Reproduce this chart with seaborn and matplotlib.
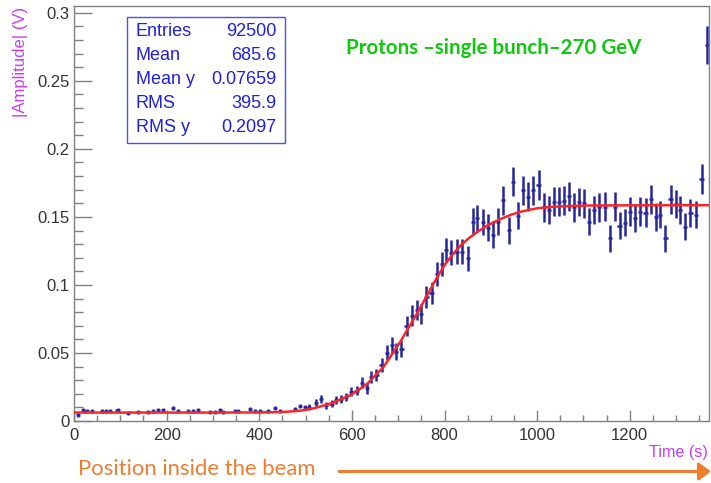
import matplotlib
matplotlib.use("Agg")
import matplotlib.pyplot as plt
import matplotlib.patches as mpatches
from matplotlib.ticker import MultipleLocator
import seaborn as sns
import pandas as pd

# ---------------- data ----------------
time_s = [9, 19, 27, 38, 60, 69, 78, 94, 117, 139, 160, 171, 182, 193, 214, 225, 247, 257,
          268, 294, 304, 315, 322, 347, 355, 380, 391, 401, 419, 434, 445, 477, 488, 499,
          508, 522, 533, 544, 556, 565, 576, 587, 599,
          610, 621, 632, 642, 653, 664, 675, 686, 696,
          707, 718, 729, 740, 750, 761, 772, 783, 794,
          804, 815, 826, 837, 850, 861, 871, 883, 894, 905,
          916, 927, 939, 948, 959, 970, 981, 991, 1003, 1014,
          1025, 1036, 1047, 1058, 1068, 1079, 1090, 1101, 1112, 1123,
          1134, 1146, 1157, 1168, 1178, 1189, 1200, 1211, 1222, 1234,
          1245, 1256, 1266, 1277, 1288, 1299, 1309, 1320, 1331, 1343,
          1355, 1366]
amplitude = [0.0045, 0.0081, 0.0074, 0.0074, 0.0074, 0.0072, 0.0074, 0.0081, 0.0056, 0.0064,
             0.0069, 0.0076, 0.0078, 0.0081, 0.0093, 0.0076, 0.0076, 0.0072, 0.0081, 0.0069,
             0.0069, 0.0081, 0.0068, 0.0076, 0.0073, 0.0088, 0.0074, 0.0073, 0.0074, 0.0093,
             0.0076, 0.0088, 0.0110, 0.0100,
             0.0100, 0.0135, 0.0160, 0.0115, 0.0128, 0.0154, 0.0160, 0.0174, 0.0216,
             0.0223, 0.0280, 0.0240, 0.0326, 0.0338, 0.0412, 0.0500, 0.0555, 0.0510,
             0.0530, 0.0699, 0.0775, 0.0816, 0.0785, 0.0910, 0.0940, 0.1080, 0.1157,
             0.1257, 0.1238, 0.1245, 0.1245, 0.1196, 0.1466, 0.1490, 0.1462, 0.1420, 0.1370,
             0.1466, 0.1622, 0.1402, 0.1760, 0.1510, 0.1696, 0.1648, 0.1696, 0.1735, 0.1570,
             0.1550, 0.1613, 0.1613, 0.1620, 0.1650, 0.1570, 0.1608, 0.1600, 0.1466, 0.1550,
             0.1570, 0.1576, 0.1343, 0.1576, 0.1434, 0.1458, 0.1539, 0.1490, 0.1539, 0.1532,
             0.1630, 0.1500, 0.1515, 0.1343, 0.1630, 0.1596, 0.1550, 0.1429, 0.1530, 0.1515,
             0.1777, 0.2765]
amplitude_err = [0.0015, 0.0015, 0.0015, 0.0015, 0.0015, 0.0015, 0.0015, 0.0015, 0.0015, 0.0015,
                 0.0015, 0.0015, 0.0015, 0.0015, 0.0015, 0.0015, 0.0015, 0.0015, 0.0015, 0.0015,
                 0.0015, 0.0015, 0.0015, 0.0015, 0.0015, 0.0015, 0.0015, 0.0015, 0.0015, 0.0015,
                 0.0015, 0.0016, 0.0018, 0.0018,
                 0.0022, 0.0025, 0.0028, 0.0025, 0.0025, 0.0028, 0.0028, 0.0030, 0.0033,
                 0.0035, 0.0040, 0.0038, 0.0045, 0.0045, 0.0050, 0.0055, 0.0060, 0.0060,
                 0.0062, 0.0072, 0.0075, 0.0075, 0.0075, 0.0080, 0.0080, 0.0085, 0.0088,
                 0.0090, 0.0090, 0.0090, 0.0090, 0.0090, 0.0098, 0.0098, 0.0098, 0.0098, 0.0098,
                 0.0100, 0.0105, 0.0100, 0.0110, 0.0100, 0.0105, 0.0105, 0.0105, 0.0110, 0.0105,
                 0.0105, 0.0105, 0.0105, 0.0105, 0.0105, 0.0105, 0.0105, 0.0105, 0.0100, 0.0105,
                 0.0105, 0.0105, 0.0100, 0.0105, 0.0100, 0.0100, 0.0105, 0.0100, 0.0105, 0.0105,
                 0.0105, 0.0100, 0.0100, 0.0100, 0.0105, 0.0105, 0.0105, 0.0100, 0.0105, 0.0100,
                 0.0110, 0.0140]

fit_time = [0, 100, 200, 300, 400, 450, 490, 520, 560, 600, 632, 668, 704, 725, 745, 765,
            783, 800, 817, 835, 853, 871, 889, 907, 925, 943, 961, 980, 1000, 1033, 1070,
            1120, 1200, 1370]
fit_amp = [0.0062, 0.0062, 0.0062, 0.0062, 0.0063, 0.0066, 0.0076, 0.0095, 0.0135, 0.0195,
           0.0270, 0.0395, 0.0580, 0.0700, 0.0816, 0.0940, 0.1050, 0.1145, 0.1222, 0.1290,
           0.1345, 0.1390, 0.1430, 0.1462, 0.1490, 0.1515, 0.1535, 0.1550, 0.1563, 0.1574,
           0.1580, 0.1584, 0.1585, 0.1586]

stats_labels = ["Entries", "Mean", "Mean y", "RMS", "RMS y"]
stats_values = ["92500", "685.6", "0.07659", "395.9", "0.2097"]

x_ticks = [0, 200, 400, 600, 800, 1000, 1200]
y_ticks = [0, 0.05, 0.1, 0.15, 0.2, 0.25, 0.3]
y_tick_labels = ["0", "0.05", "0.1", "0.15", "0.2", "0.25", "0.3"]

title_text = "Protons \u2013single bunch\u2013270 GeV"
x_title = "Time (s)"
y_title = "|Amplitude| (V)"
note_text = "Position inside the beam"

# ---------------- styling ----------------
sns.set_style("white")
plt.rcParams["font.family"] = ["Liberation Sans", "DejaVu Sans"]

W, H = 711, 483
BLUE_PTS = "#26269c"
RED = "#ff2424"
VIOLET = "#c63cf5"
GREEN = "#10c810"
ORANGE = "#ed7d31"
STAT_BLUE = "#1f1fe6"
FRAME = "#808080"

fig = plt.figure(figsize=(W / 100, H / 100), dpi=100)
fig.patch.set_facecolor("white")
ax = fig.add_axes([74 / W, 1 - 421 / H, (708.5 - 74) / W, (421 - 6) / H])

df = pd.DataFrame({"time": time_s, "amp": amplitude, "err": amplitude_err})
fit_df = pd.DataFrame({"time": fit_time, "amp": fit_amp})

ax.errorbar(df["time"], df["amp"], yerr=df["err"], xerr=4.5, fmt="none",
            ecolor=BLUE_PTS, elinewidth=1.8, capsize=0, zorder=2)
sns.lineplot(data=fit_df, x="time", y="amp", ax=ax, color=RED, linewidth=1.8,
             sort=False, zorder=3)

ax.set_xlim(0, 1370)
ax.set_ylim(0, 0.305)
ax.set_xlabel("")
ax.set_ylabel("")

ax.set_xticks(x_ticks)
ax.set_xticklabels([str(t) for t in x_ticks])
ax.set_yticks(y_ticks)
ax.set_yticklabels(y_tick_labels)
ax.xaxis.set_minor_locator(MultipleLocator(50))
ax.yaxis.set_minor_locator(MultipleLocator(0.01))

ax.tick_params(axis="x", which="major", direction="in", length=8, width=1, color=FRAME,
               pad=5, labelsize=12, labelcolor="#333333", bottom=True, top=False)
ax.tick_params(axis="x", which="minor", direction="in", length=4, width=1, color=FRAME,
               bottom=True, top=False)
ax.tick_params(axis="y", which="major", direction="in", length=13, width=1, color=FRAME,
               pad=3, labelsize=12, labelcolor="#333333", left=True, right=False)
ax.tick_params(axis="y", which="minor", direction="in", length=6.5, width=1, color=FRAME,
               left=True, right=False)
for s in ax.spines.values():
    s.set_color(FRAME)
    s.set_linewidth(1.0)
    s.set_visible(True)


def fx(px):
    return px / W


def fy(py):
    return 1 - py / H


# axis titles (ROOT style, at the axis ends)
fig.text(fx(708), fy(452), x_title, ha="right", va="center", color=VIOLET, fontsize=11.6)
fig.text(fx(21), fy(7), y_title, ha="center", va="top", rotation=90, color=VIOLET,
         fontsize=12)

# stats box
box = mpatches.Rectangle((fx(126.7), fy(142.7)), (285 - 126.7) / W, (142.7 - 17.3) / H,
                         transform=fig.transFigure, facecolor="white", edgecolor="#4d4dff",
                         linewidth=1.0, zorder=5)
fig.add_artist(box)
row_y = [31.7, 55.5, 79.5, 104, 127.7]
for lab, val, yy in zip(stats_labels, stats_values, row_y):
    fig.text(fx(135.5), fy(yy), lab, ha="left", va="center", color=STAT_BLUE, fontsize=13,
             zorder=6)
    fig.text(fx(276.5), fy(yy), val, ha="right", va="center", color=STAT_BLUE, fontsize=13,
             zorder=6)

# green annotation and orange note
t_title = fig.text(fx(493.5), fy(48), title_text, ha="center", va="center", color=GREEN,
                   fontsize=15, fontweight="bold", family=["Lato", "DejaVu Sans"])
t_note = fig.text(fx(77.5), fy(469), note_text, ha="left", va="center", color=ORANGE,
                  fontsize=15, family=["Lato", "DejaVu Sans"])

fig.canvas.draw()
renderer = fig.canvas.get_renderer()
for t, target in ((t_title, 297.0), (t_note, 238.0)):
    w = t.get_window_extent(renderer).width
    t.set_fontsize(t.get_fontsize() * target / w)

arrow = mpatches.FancyArrowPatch((fx(339), fy(471.5)), (fx(711), fy(471.5)),
                                 transform=fig.transFigure,
                                 arrowstyle="-|>,head_length=0.4,head_width=0.3",
                                 mutation_scale=18, color=ORANGE, linewidth=2.2,
                                 shrinkA=0, shrinkB=0)
fig.add_artist(arrow)

fig.savefig("out.png", dpi=100, facecolor="white")
